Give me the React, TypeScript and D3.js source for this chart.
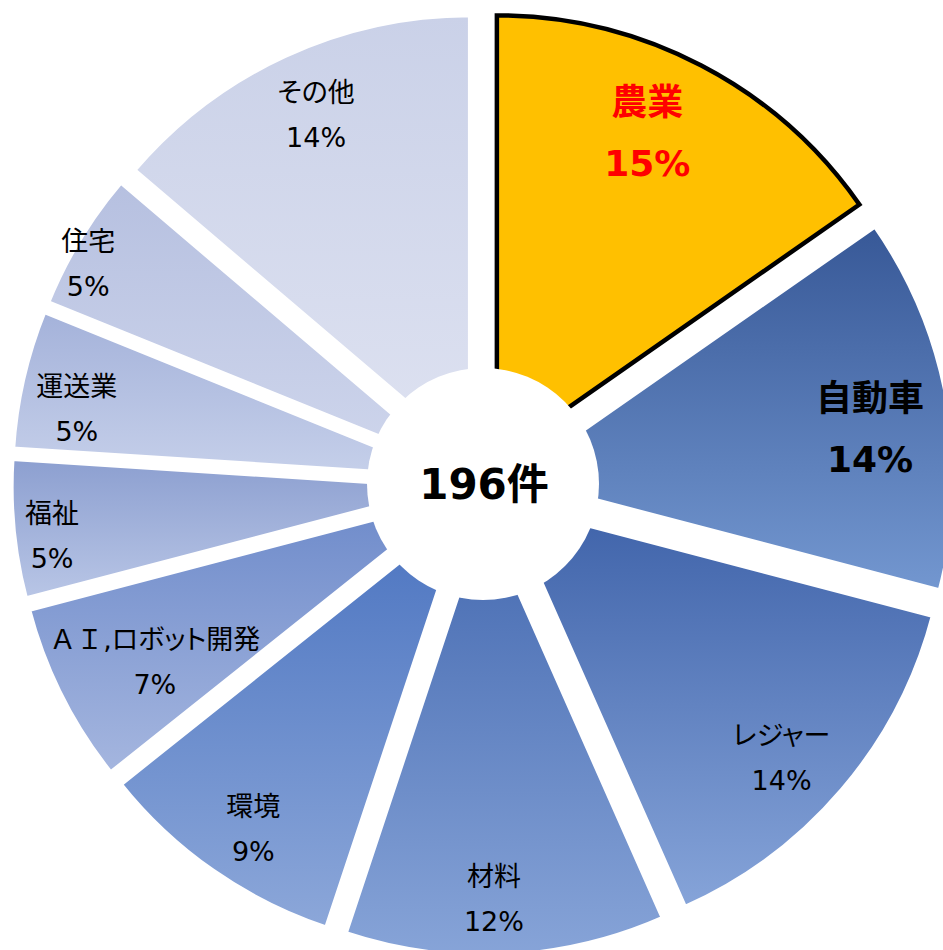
import React from 'react';
import * as d3 from 'd3';

// ---- data ----
const categories = ['農業', '自動車', 'レジャー', '材料', '環境', 'ＡＩ,ロボット開発', '福祉', '運送業', '住宅', 'その他'];
const counts = [30, 27, 28, 23, 18, 13, 10, 10, 10, 27];
const totalLabel = '196件';

// ---- styles ----
const gradTop = ['#FFC000', '#375897', '#3E62A9', '#4469B0', '#4A73C0', '#6D8ACA', '#8C9FD0', '#A4B2DA', '#B6C0E0', '#CAD1E8'];
const gradBottom = ['#FFC000', '#7397D0', '#86A4D9', '#87A4D8', '#8CA7D9', '#A5B6DF', '#B9C6E6', '#C6D0EA', '#CFD6EC', '#DEE2F1'];
const labelColor = ['#FF0000', '#000000', '#000', '#000', '#000', '#000', '#000', '#000', '#000', '#000'];
const labelBold = [true, true, false, false, false, false, false, false, false, false];
// label layout (polar, relative to pie centre): radius and small angular nudge in degrees
const labelRadius = [388, 391, 405, 415, 414, 373, 434, 413, 452, 405];
const labelNudge = [-2.5, 2, 2.1, 1.25, -1.2, -1.75, -1.3, -2.4, -2.1, 0.45];

const W = 943;
const H = 950;
const CX = 483;
const CY = 484;
const R = 442;
const EXPLODE = 30;
const HOLE = 116;
const FONT = "'DejaVu Sans', 'Noto Sans CJK JP', sans-serif";

// split text into kana runs (proportional) and other runs (full width)
function runs(s: string) {
  const out: { t: string; kana: boolean }[] = [];
  for (const ch of s) {
    const kana = /[\u3040-\u30ff,]/.test(ch);
    const last = out[out.length - 1];
    if (last && last.kana === kana) last.t += ch;
    else out.push({ t: ch, kana });
  }
  return out;
}

export default function App() {
  const total = d3.sum(counts);
  const pct = counts.map((c) => `${Math.round((c / total) * 100)}%`);
  const pie = d3.pie<number>().sort(null).value((d) => d);
  const arcs = pie(counts);
  const arcGen = d3.arc<d3.PieArcDatum<number>>().innerRadius(0).outerRadius(R);

  const order = arcs.map((_, i) => i).filter((i) => i !== 0).concat([0]);

  return (
    <svg
      width={W}
      height={H}
      style={{ position: 'absolute', left: 0, top: 0, background: '#fff' }}
    >
      <defs>
        {arcs.map((_, i) => (
          <linearGradient key={i} id={`g${i}`} x1="0" y1="0" x2="0" y2="1">
            <stop offset="0" stopColor={gradTop[i]} />
            <stop offset="1" stopColor={gradBottom[i]} />
          </linearGradient>
        ))}
      </defs>
      {order.map((i) => {
        const a = arcs[i];
        const mid = (a.startAngle + a.endAngle) / 2;
        const dx = EXPLODE * Math.sin(mid);
        const dy = -EXPLODE * Math.cos(mid);
        const hl = i === 0;
        return (
          <path
            key={i}
            d={arcGen(a) || ''}
            transform={`translate(${CX + dx},${CY + dy})`}
            fill={`url(#g${i})`}
            stroke={hl ? '#000' : '#fff'}
            strokeWidth={hl ? 4.5 : 5}
            strokeLinejoin="miter"
          />
        );
      })}
      <circle cx={CX} cy={CY} r={HOLE} fill="#fff" />
      <text
        x={CX + 1}
        y={CY}
        dy="0.36em"
        textAnchor="middle"
        fontFamily={FONT}
        fontWeight="bold"
        fontSize={42}
        fill="#000"
      >
        {totalLabel}
      </text>
      {arcs.map((a, i) => {
        const mid = (a.startAngle + a.endAngle) / 2 + (labelNudge[i] * Math.PI) / 180;
        const x = CX + labelRadius[i] * Math.sin(mid);
        const y = CY - labelRadius[i] * Math.cos(mid);
        const bold = labelBold[i];
        const fs = bold ? 36 : 27;
        const gap = bold ? 61 : 45;
        return (
          <g key={i} fontFamily={FONT} fill={labelColor[i]} fontWeight={bold ? 'bold' : 'normal'} fontSize={fs} textAnchor="middle">
            <text x={x} y={y - gap / 2} dy="0.36em">
              {runs(categories[i]).map((r, k) => (
                <tspan key={k} style={r.kana ? { fontFeatureSettings: '"palt"' } : undefined}>
                  {r.t}
                </tspan>
              ))}
            </text>
            <text x={x} y={y + gap / 2} dy="0.36em">
              {pct[i]}
            </text>
          </g>
        );
      })}
    </svg>
  );
}
